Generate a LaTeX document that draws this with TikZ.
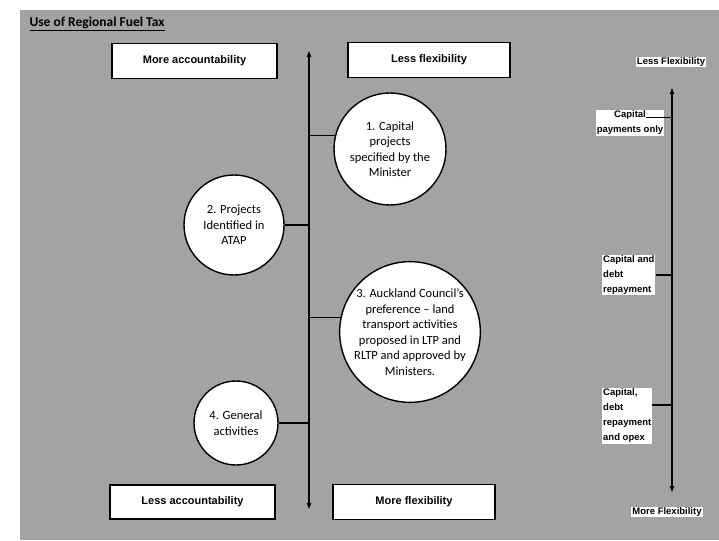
\documentclass[tikz,border=0pt]{standalone}
\usepackage{fontspec}
\setmainfont{Carlito}
\newfontfamily\boxfont{Liberation Sans}
\usetikzlibrary{arrows.meta}

\begin{document}
\begin{tikzpicture}[x=1pt,y=-1pt,
  scalebox/.style={draw,line width=1.4pt,fill=white,minimum width=165pt,minimum height=35pt,
    font=\boxfont\bfseries\fontsize{11}{12}\selectfont},
  option/.style={circle,draw,line width=1.4pt,fill=white,align=center,inner sep=0pt,
    font=\fontsize{12.5}{15.5}\selectfont},
  tag/.style={fill=white,inner sep=1pt,font=\boxfont\bfseries\fontsize{9.5}{15}\selectfont},
  link/.style={line width=1.2pt}]
% scanned page background
\useasboundingbox (0,0) rectangle (719,540);
\fill[black!36] (20,10) rectangle (719,540);
\node[anchor=west,font=\bfseries\fontsize{13.5}{16}\selectfont] (title) at (26,24) {\underline{Use of Regional Fuel Tax}};

% accountability / flexibility boxes
\node[scalebox] (moreacc) at (194.5,61) {More accountability};
\node[scalebox,minimum width=162pt] (lessflex) at (429,60) {Less flexibility};
\node[scalebox,minimum height=34pt] (lessacc) at (192.5,502) {Less accountability};
\node[scalebox,minimum width=162pt] (moreflex) at (414,502) {More flexibility};

% main scale
\coordinate (ltop) at (309,50);
\coordinate (lbot) at (309,510);
\draw[line width=1.4pt,{Latex[length=7pt,width=5pt]}-{Latex[length=7pt,width=5pt]}] (ltop) -- (lbot);

% options
\node[option,minimum size=112pt] (opt1) at (390,149) {1. Capital\\projects\\specified by the\\Minister};
\node[option,minimum size=100pt] (opt2) at (234,225) {2. Projects\\Identified in\\ATAP};
\node[option,minimum size=132pt] (opt3) at (410,332) {3. Auckland Council's\\preference -- land\\transport activities\\proposed in LTP and\\RLTP and approved by\\Ministers.};
\node[option,minimum size=84pt] (opt4) at (236,423) {4. General\\activities};
\draw[link] (opt1.166) -- (opt1.166 -| ltop);
\draw[link] (opt2.east) -- (opt2.east -| ltop);
\draw[link] (opt3.168) -- (opt3.168 -| ltop);
\draw[link] (opt4.east) -- (opt4.east -| ltop);

% right hand scale
\coordinate (rtop) at (672,87);
\coordinate (rbot) at (672,493);
\draw[line width=1.4pt,{Latex[length=7pt,width=5pt]}-{Latex[length=7pt,width=5pt]}] (rtop) -- (rbot);
\node[tag] (lessF) at (671,62) {Less Flexibility};
\node[tag] (moreF) at (667,512) {More Flexibility};
\node[tag,align=center] (capa) at (630,123) {Capital\\payments only};
\node[tag,align=left,anchor=west] (capb) at (602,275) {Capital and\\debt\\repayment};
\node[tag,align=left,anchor=west] (capc) at (602,416) {Capital,\\debt\\repayment\\and opex};
\draw[link] ([xshift=-18pt,yshift=-8pt]capa.north east) -- ([yshift=-8pt]capa.north east -| rtop);
\draw[link] (capb.east) -- (capb.east -| rtop);
\draw[link] ([yshift=11pt]capc.east) -- ([yshift=11pt]capc.east -| rtop);
\end{tikzpicture}
\end{document}
